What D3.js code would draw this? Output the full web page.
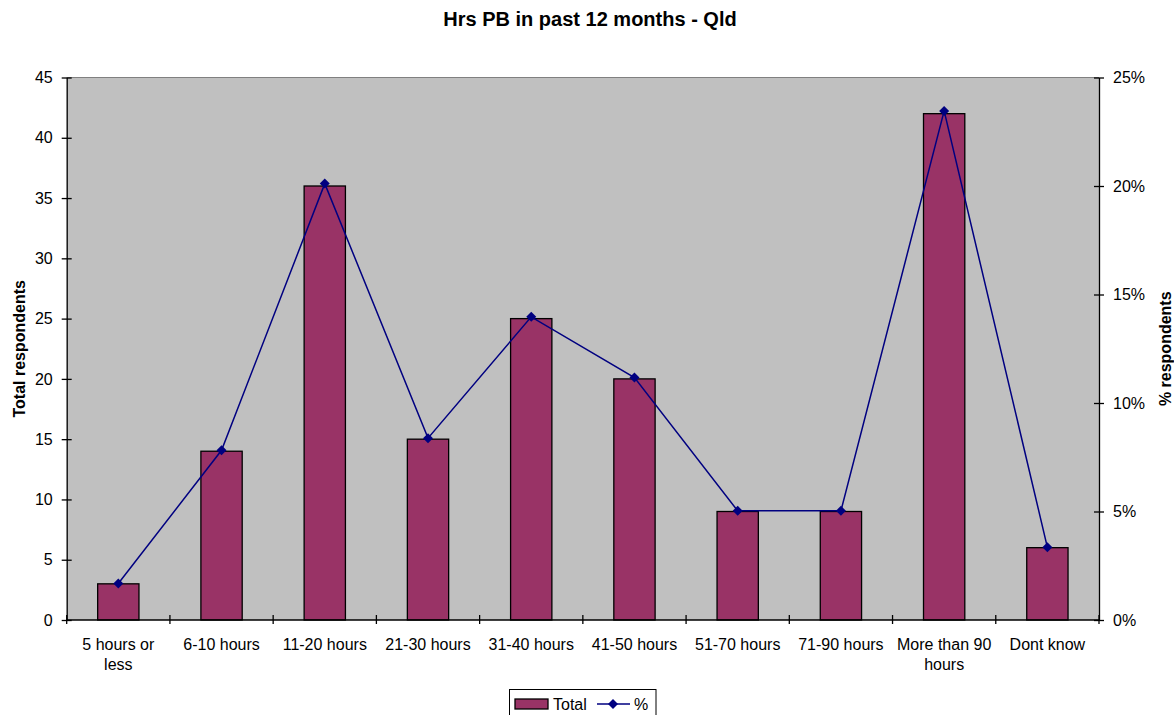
<!DOCTYPE html>
<html>
<head>
<meta charset="utf-8">
<script src="https://cdn.jsdelivr.net/npm/d3@7"></script>
<style>
  body { margin: 0; background: #fff; }
  svg { display: block; font-family: Arial, "Liberation Sans", sans-serif; }
</style>
</head>
<body>
<svg id="chart" width="1174" height="715"></svg>
<script>
const categories = ["5 hours or less", "6-10 hours", "11-20 hours", "21-30 hours", "31-40 hours",
  "41-50 hours", "51-70 hours", "71-90 hours", "More than 90 hours", "Dont know"];
const labelLines = [["5 hours or", "less"], ["6-10 hours"], ["11-20 hours"], ["21-30 hours"], ["31-40 hours"],
  ["41-50 hours"], ["51-70 hours"], ["71-90 hours"], ["More than 90", "hours"], ["Dont know"]];
const totals = [3, 14, 36, 15, 25, 20, 9, 9, 42, 6];
const percents = [0.0168, 0.0782, 0.2011, 0.0838, 0.1397, 0.1117, 0.0503, 0.0503, 0.2346, 0.0335];
const leftTicks = [0, 5, 10, 15, 20, 25, 30, 35, 40, 45];
const rightTicks = [0, 0.05, 0.10, 0.15, 0.20, 0.25];

const svg = d3.select("#chart");
const L = 66.7, R = 1099, T = 77.5, B = 620;

const x = d3.scaleBand().domain(categories).range([L, R]).paddingInner(0).paddingOuter(0);
const yL = d3.scaleLinear().domain([0, 45]).range([B, T]);
const yR = d3.scaleLinear().domain([0, 0.25]).range([B, T]);

// plot background
svg.append("rect").attr("x", L).attr("y", T).attr("width", R - L).attr("height", B - T)
  .attr("fill", "#c0c0c0");
svg.append("line").attr("x1", L).attr("x2", R).attr("y1", T).attr("y2", T)
  .attr("stroke", "#808080").attr("stroke-width", 1);

// bars
const bw = x.bandwidth() / 2.5;
svg.append("g").selectAll("rect").data(totals).join("rect")
  .attr("x", (d, i) => x(categories[i]) + x.bandwidth() / 2 - bw / 2)
  .attr("y", d => yL(d))
  .attr("width", bw)
  .attr("height", d => yL(0) - yL(d))
  .attr("fill", "#993366")
  .attr("stroke", "#000")
  .attr("stroke-width", 1.3);

// line
const cx = (i) => x(categories[i]) + x.bandwidth() / 2;
const line = d3.line().x((d, i) => cx(i)).y(d => yR(d));
svg.append("path").datum(percents).attr("d", line)
  .attr("fill", "none").attr("stroke", "#000080").attr("stroke-width", 1.5);
svg.append("g").selectAll("path").data(percents).join("path")
  .attr("d", d3.symbol(d3.symbolDiamond2, 64)())
  .attr("transform", (d, i) => `translate(${cx(i)},${yR(d)})`)
  .attr("fill", "#000080");

// axes
const axisStyle = g => {
  g.selectAll(".domain").attr("stroke", "#000").attr("stroke-width", 1.3);
  g.selectAll(".tick line").attr("stroke", "#000").attr("stroke-width", 1.3);
  g.selectAll("text").attr("fill", "#000").attr("font-size", "16px")
    .attr("font-family", "Arial, 'Liberation Sans', sans-serif");
};

const gl = svg.append("g").attr("transform", `translate(${L},0)`)
  .call(d3.axisLeft(yL).tickValues(leftTicks).tickSize(5).tickSizeOuter(0).tickPadding(9))
  .call(axisStyle);
gl.selectAll(".tick line").attr("x2", -5).attr("x1", 5);

const gr = svg.append("g").attr("transform", `translate(${R},0)`)
  .call(d3.axisRight(yR).tickValues(rightTicks).tickFormat(d3.format(".0%")).tickSize(5).tickSizeOuter(0).tickPadding(9))
  .call(axisStyle);
gr.selectAll(".tick line").attr("x1", -5).attr("x2", 5);

// bottom axis with ticks at band boundaries
const boundaries = categories.map(c => x(c)).concat([R]);
const gb = svg.append("g");
gb.append("line").attr("x1", L).attr("x2", R).attr("y1", B).attr("y2", B)
  .attr("stroke", "#000").attr("stroke-width", 1.3);
gb.selectAll("line.tk").data(boundaries).join("line").attr("class", "tk")
  .attr("x1", d => d).attr("x2", d => d).attr("y1", B - 5).attr("y2", B + 4)
  .attr("stroke", "#000").attr("stroke-width", 1.3);
const lbl = gb.selectAll("text").data(labelLines).join("text")
  .attr("text-anchor", "middle").attr("font-size", "16px").attr("fill", "#000")
  .attr("x", (d, i) => cx(i)).attr("y", 650);
lbl.selectAll("tspan").data(d => d).join("tspan")
  .attr("x", function () { return d3.select(this.parentNode).attr("x"); })
  .attr("dy", (d, j) => j === 0 ? 0 : 20)
  .text(d => d);

// titles
svg.append("text").attr("x", 590).attr("y", 26).attr("text-anchor", "middle")
  .attr("font-size", "20px").attr("font-weight", "bold").text("Hrs PB in past 12 months - Qld");
svg.append("text").attr("transform", `translate(25,${(T + B) / 2}) rotate(-90)`)
  .attr("text-anchor", "middle").attr("font-size", "16px").attr("font-weight", "bold")
  .text("Total respondents");
svg.append("text").attr("transform", `translate(1171,${(T + B) / 2}) rotate(-90)`)
  .attr("text-anchor", "middle").attr("font-size", "16px").attr("font-weight", "bold")
  .text("% respondents");

// legend
const lg = svg.append("g");
lg.append("rect").attr("x", 509.5).attr("y", 689.5).attr("width", 146.5).attr("height", 30)
  .attr("fill", "#fff").attr("stroke", "#000").attr("stroke-width", 1);
lg.append("rect").attr("x", 515).attr("y", 699).attr("width", 33).attr("height", 10)
  .attr("fill", "#993366").attr("stroke", "#000").attr("stroke-width", 1.3);
lg.append("text").attr("x", 553).attr("y", 710).attr("font-size", "16px").text("Total");
lg.append("line").attr("x1", 597).attr("x2", 630).attr("y1", 704).attr("y2", 704)
  .attr("stroke", "#000080").attr("stroke-width", 1.5);
lg.append("path").attr("d", d3.symbol(d3.symbolDiamond2, 64)())
  .attr("transform", "translate(613,704)").attr("fill", "#000080");
lg.append("text").attr("x", 634).attr("y", 710).attr("font-size", "16px").text("%");
</script>
</body>
</html>
